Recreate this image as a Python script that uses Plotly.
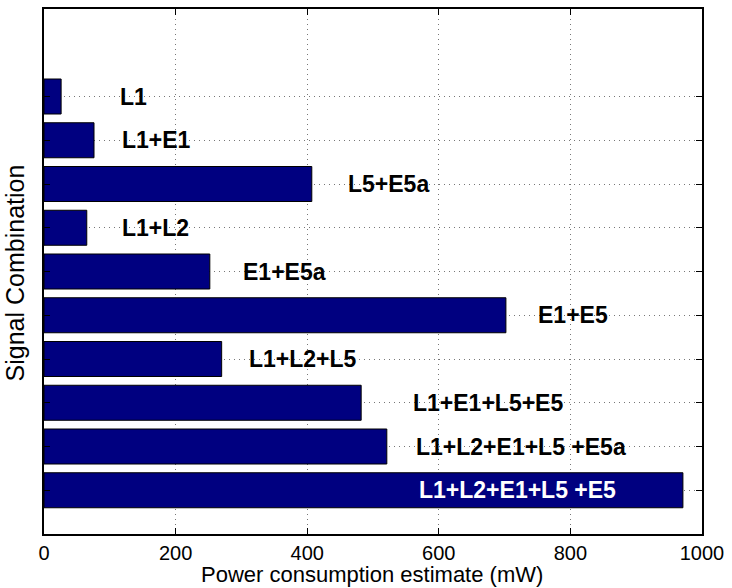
import plotly.graph_objects as go

# Data (top to bottom as displayed)
combinations = ["L1", "L1+E1", "L5+E5a", "L1+L2", "E1+E5a", "E1+E5",
                "L1+L2+L5", "L1+E1+L5+E5", "L1+L2+E1+L5 +E5a", "L1+L2+E1+L5 +E5"]
power_mw = [26, 76, 407, 65, 252, 702, 270, 482, 521, 971]
label_x = [112, 116, 459, 116, 299, 748, 309, 557, 562, 567]
label_colors = ["black"] * 9 + ["white"]

n = len(combinations)
positions = [n - i for i in range(n)]  # top item at highest position

FONT = "Liberation Sans, Arial, Helvetica, sans-serif"

fig = go.Figure()
fig.add_trace(go.Bar(
    x=power_mw, y=positions, orientation="h", width=0.8,
    marker=dict(color="#000080", line=dict(color="black", width=1)),
    hoverinfo="x", showlegend=False,
))

for name, lx, pos, col in zip(combinations, label_x, positions, label_colors):
    fig.add_annotation(x=lx, y=pos, xref="x", yref="y", text="<b>" + name + "</b>",
                       showarrow=False, xanchor="left", yanchor="middle",
                       font=dict(family=FONT, size=23, color=col))

fig.add_annotation(x=0.498, y=-0.0775, xref="paper", yref="paper",
                   text="Power consumption estimate (mW)", showarrow=False,
                   xanchor="center", yanchor="middle",
                   font=dict(family=FONT, size=22, color="black"))
fig.add_annotation(x=-0.0435, y=0.497, xref="paper", yref="paper",
                   text="Signal Combination", showarrow=False, textangle=-90,
                   xanchor="center", yanchor="middle",
                   font=dict(family=FONT, size=25, color="black"))

fig.update_layout(
    width=732, height=588,
    margin=dict(l=43.5, r=25, t=7.3, b=53.7),
    plot_bgcolor="white", paper_bgcolor="white",
    font=dict(family=FONT, size=20, color="black"),
    bargap=0.2,
)
fig.update_xaxes(range=[0, 1000], tickvals=[0, 200, 400, 600, 800, 1000],
                 showgrid=True, gridcolor="#777777", griddash="1px,4px", gridwidth=1,
                 ticks="inside", ticklen=6, tickcolor="black", mirror="ticks",
                 showline=True, linecolor="black", linewidth=1.5, zeroline=False)
fig.update_yaxes(range=[0, 12], tickvals=positions, showticklabels=False,
                 showgrid=True, gridcolor="#777777", griddash="1px,4px", gridwidth=1,
                 ticks="inside", ticklen=6, tickcolor="black", mirror="ticks",
                 showline=True, linecolor="black", linewidth=1.5, zeroline=False)

fig.write_html("out.html", config={"displayModeBar": False},
               post_script="document.body.style.margin='0';")
